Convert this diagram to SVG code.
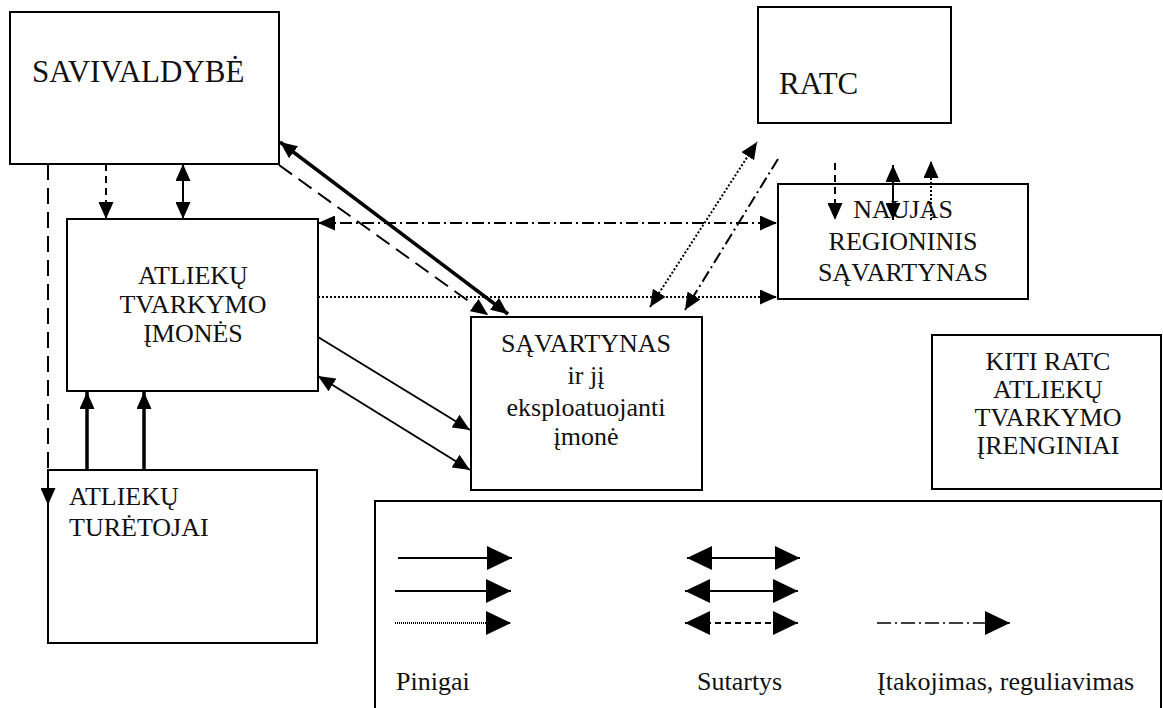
<svg xmlns="http://www.w3.org/2000/svg" width="1163" height="708" viewBox="0 0 1163 708">
<style>
  .box { fill: #fff; stroke: #000; stroke-width: 2; }
  text { font-family: 'Liberation Serif', 'Times New Roman', serif; font-size: 26px; fill: #111; }
  .big { font-size: 31px; }
  .mid { text-anchor: middle; }
  .ln { fill: none; stroke: #000; stroke-width: 2; }
  .thick { stroke-width: 3.5; }
  .dash { stroke-dasharray: 16 8; }
  .sdash { stroke-dasharray: 7 5; }
  .dot { stroke-dasharray: 2 2; }
  .dd { stroke-dasharray: 12 4 2 4; }
  .ddd { stroke-dasharray: 14 4 2 4; stroke-width: 1.5; }
  .a { marker-end: url(#ah); }
  .aa { marker-start: url(#ah); marker-end: url(#ah); }
  .la { marker-end: url(#lah); }
  .laa { marker-start: url(#lah); marker-end: url(#lah); }
</style>
<defs>
  <marker id="ah" markerUnits="userSpaceOnUse" markerWidth="17" markerHeight="15" refX="17" refY="7.5" orient="auto-start-reverse">
    <path d="M0,0 L17,7.5 L0,15 z" fill="#000"/>
  </marker>
  <marker id="lah" markerUnits="userSpaceOnUse" markerWidth="25" markerHeight="24" refX="25" refY="12" orient="auto-start-reverse">
    <path d="M0,0 L25,12 L0,24 z" fill="#000"/>
  </marker>
</defs>
<rect width="1163" height="708" fill="#fff"/>

<g id="savivaldybe">
  <rect class="box" x="10" y="12" width="269" height="152"/>
  <text class="big" x="32" y="82">SAVIVALDYBĖ</text>
</g>
<g id="ratc">
  <rect class="box" x="758" y="7" width="193" height="116"/>
  <text class="big" x="779" y="94">RATC</text>
</g>
<g id="atliekus-tvarkymo-imones">
  <rect class="box" x="67" y="219" width="251" height="172"/>
  <text class="mid" x="193" y="284">ATLIEKŲ</text>
  <text class="mid" x="193" y="313">TVARKYMO</text>
  <text class="mid" x="193" y="342">ĮMONĖS</text>
</g>
<g id="naujas">
  <rect class="box" x="778" y="184" width="250" height="115"/>
  <text class="mid" x="903" y="218">NAUJAS</text>
  <text class="mid" x="903" y="250">REGIONINIS</text>
  <text class="mid" x="903" y="281">SĄVARTYNAS</text>
</g>
<g id="savartynas">
  <rect class="box" x="471" y="317" width="231" height="173"/>
  <text class="mid" x="586" y="352">SĄVARTYNAS</text>
  <text class="mid" x="586" y="384">ir jį</text>
  <text class="mid" x="586" y="416">eksploatuojanti</text>
  <text class="mid" x="586" y="445">įmonė</text>
</g>
<g id="kiti">
  <rect class="box" x="932" y="335" width="229" height="154"/>
  <text class="mid" x="1048" y="370">KITI RATC</text>
  <text class="mid" x="1048" y="398">ATLIEKŲ</text>
  <text class="mid" x="1048" y="426">TVARKYMO</text>
  <text class="mid" x="1048" y="454">ĮRENGINIAI</text>
</g>
<g id="turetojai">
  <rect class="box" x="48" y="470" width="269" height="173"/>
  <text x="69" y="505">ATLIEKŲ</text>
  <text x="69" y="536">TURĖTOJAI</text>
</g>

<g id="connectors">
  <line class="ln dash a" x1="48" y1="164" x2="48" y2="505"/>
  <line class="ln sdash a" x1="106" y1="164" x2="106" y2="219"/>
  <line class="ln aa" x1="183" y1="164" x2="183" y2="219"/>
  <line class="ln thick aa" x1="280" y1="142" x2="508" y2="314"/>
  <line class="ln dash a" x1="279" y1="165" x2="488" y2="315"/>
  <line class="ln dd aa" x1="318" y1="223" x2="777" y2="223"/>
  <line class="ln dot a" x1="318" y1="297" x2="777" y2="297"/>
  <line class="ln a" x1="318" y1="337" x2="470" y2="430"/>
  <line class="ln aa" x1="318" y1="376" x2="470" y2="470"/>
  <line class="ln thick a" x1="87" y1="470" x2="87" y2="392"/>
  <line class="ln thick a" x1="144" y1="470" x2="144" y2="392"/>
  <line class="ln dot aa" x1="650" y1="307" x2="757" y2="142"/>
  <line class="ln dd a" x1="778" y1="159" x2="685" y2="310"/>
  <line class="ln sdash a" x1="835" y1="163" x2="835" y2="220"/>
  <line class="ln aa" x1="893" y1="165" x2="893" y2="220"/>
  <line class="ln dot a" x1="931" y1="220" x2="931" y2="161"/>
</g>

<g id="legend">
  <rect class="box" x="375" y="501" width="786" height="230"/>
  <line class="ln la" x1="398" y1="558" x2="512" y2="558" stroke-width="4.5"/>
  <line class="ln la" x1="395" y1="591" x2="511" y2="591" stroke-width="1.5"/>
  <line class="ln la" x1="395" y1="623" x2="511" y2="623" stroke-width="1" stroke-dasharray="1 1"/>
  <line class="ln laa" x1="687" y1="558" x2="800" y2="558" stroke-width="4.5"/>
  <line class="ln laa" x1="685" y1="591" x2="798" y2="591" stroke-width="1.5"/>
  <line class="ln laa" x1="685" y1="623" x2="798" y2="623" stroke-width="1.5" stroke-dasharray="6 4"/>
  <line class="ln ddd la" x1="877" y1="623" x2="1010" y2="623"/>
  <text x="396" y="690">Pinigai</text>
  <text x="697" y="690">Sutartys</text>
  <text x="877" y="690">Įtakojimas, reguliavimas</text>
</g>
</svg>
